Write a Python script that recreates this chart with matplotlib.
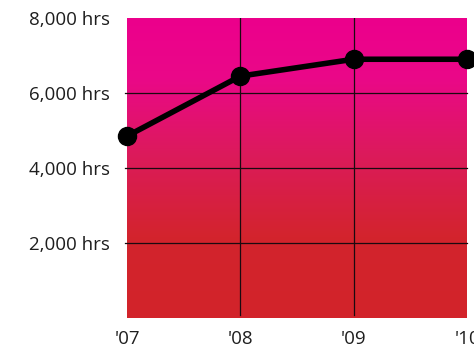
import numpy as np
import matplotlib.pyplot as plt
from matplotlib.colors import LinearSegmentedColormap

# hours per year
years = ["'07", "'08", "'09", "'10"]
hours = [4850, 6450, 6900, 6900]
yticks = [2000, 4000, 6000, 8000]
ytick_labels = ["2,000 hrs", "4,000 hrs", "6,000 hrs", "8,000 hrs"]

plt.rcParams['font.family'] = ['Open Sans', 'DejaVu Sans']

fig = plt.figure(figsize=(4.74, 3.5), dpi=100)
ax = fig.add_axes([127 / 474, 32 / 350, 340 / 474, 300 / 350])

x = np.arange(len(years))
ax.set_xlim(0, len(years) - 1)
ax.set_ylim(0, 8000)

# vertical gradient: magenta at top fading to red at the bottom
cmap = LinearSegmentedColormap.from_list(
    'bg', [(0.0, '#d2232a'), (0.27, '#d3242d'), (0.55, '#dc1a5c'),
           (0.8, '#ea0888'), (1.0, '#ec008c')])
grad = np.linspace(0, 1, 256).reshape(-1, 1)
ax.imshow(grad, cmap=cmap, aspect='auto', origin='lower',
          extent=(0, len(years) - 1, 0, 8000), zorder=0)

for yv in yticks[:-1]:
    ax.plot([-0.005, 1], [yv, yv], transform=ax.get_yaxis_transform(),
            color='#1a0a10', lw=0.9, clip_on=False, zorder=1)
for xv in x[1:-1]:
    ax.plot([xv, xv], [80, 8000], color='#1a0a10', lw=0.9, zorder=1)

ax.plot(x, hours, color='black', lw=4, marker='o', markersize=13,
        clip_on=False, zorder=3)

for s in ax.spines.values():
    s.set_visible(False)
ax.set_xticks(x)
ax.set_xticklabels(years, fontsize=13.5)
ax.set_yticks(yticks)
ax.set_yticklabels(ytick_labels, fontsize=13.5)
ax.tick_params(length=0, pad=12, colors='#1e1e1e')
ax.tick_params(axis='x', pad=9)

fig.savefig('out.png', dpi=100)
